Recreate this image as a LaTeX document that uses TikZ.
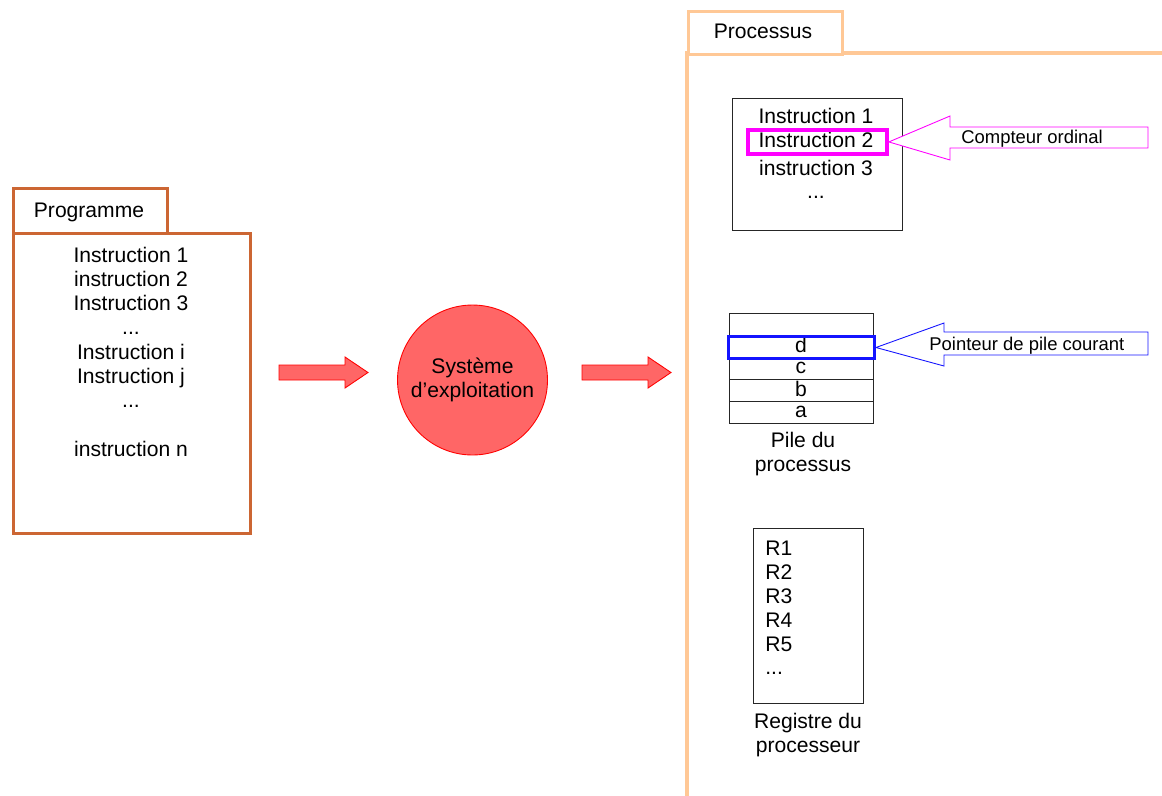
\documentclass[tikz,border=0pt]{standalone}
\usepackage{fontspec}
\setmainfont{Liberation Sans}
\definecolor{prog}{RGB}{204,102,51}
\definecolor{proc}{RGB}{255,200,150}
\definecolor{redfill}{RGB}{255,102,102}
\definecolor{mag}{RGB}{255,0,255}
\definecolor{pblue}{RGB}{20,20,255}
\newcommand\tdots{...}
\begin{document}
\begin{tikzpicture}[x=0.02cm,y=-0.02cm,
  txt/.style={font=\fontsize{12}{14}\selectfont, inner sep=0pt, anchor=base},
  txtw/.style={font=\fontsize{12}{14}\selectfont, inner sep=0pt, anchor=base west},
  small/.style={font=\fontsize{10.5}{12}\selectfont, inner sep=0pt, anchor=base west},
  box/.style={draw=black!85, line width=0.6pt, inner sep=0pt, anchor=north west},
  progbox/.style={draw=prog, line width=1.7pt, fill=white, inner sep=0pt, anchor=north west},
  procline/.style={draw=proc, line width=1.9pt},
  blockarrow/.style={fill=redfill, draw=red, line width=0.5pt},
  callout/.style={fill=white, line width=0.5pt},
]
\useasboundingbox (0,0) rectangle (1162,795);

% ---------- Programme ----------
\node[progbox, minimum width=3.08cm, minimum height=0.9cm] (ptab) at (12,187) {};
\node[progbox, minimum width=4.74cm, minimum height=6cm] (pbody) at (12,232) {};
\node[txt] (ptabt) at (89,217) {Programme};
\foreach \t/\y [count=\i] in {Instruction 1/262, instruction 2/286.3, Instruction 3/310.6, \tdots/334.9, Instruction i/359.2, Instruction j/383.5, \tdots/407.8, instruction n/456.4}
  \node[txt] (pl\i) at (131,\y) {\t};

% ---------- arrows and OS ----------
\node[circle, fill=redfill, draw=red, line width=0.5pt, minimum size=3cm, inner sep=0pt] (os) at (472.5,380) {};
\node[txt] (os1) at (472.5,373) {Système};
\node[txt] (os2) at (472.5,397) {d'exploitation};
\draw[blockarrow] (279,365) -- (345,365) -- (345,357) -- (368,372.5) -- (345,388) -- (345,380) -- (279,380) -- cycle;
\draw[blockarrow] (582,365) -- (648,365) -- (648,357) -- (671,372.5) -- (648,388) -- (648,380) -- (582,380) -- cycle;

% ---------- Processus frame ----------
\draw[procline] (687,797) -- (687,53) -- (1164,53);
\node[draw=proc, line width=1.9pt, fill=white, inner sep=0pt, anchor=north west, minimum width=3.08cm, minimum height=0.86cm] (prtab) at (687,10) {};
\node[txt] (prtabt) at (763,38) {Processus};

% ---------- instructions ----------
\node[box, minimum width=3.4cm, minimum height=2.64cm] (ibox) at (732,98) {};
\node[txt] (i1) at (816,123) {Instruction 1};
\node[txt] (i2) at (816,147) {Instruction 2};
\node[txt] (i3) at (816,175) {instruction 3};
\node[txt] (i4) at (816,198) {\tdots};
\node[draw=mag, line width=2.2pt, inner sep=0pt, anchor=north west, minimum width=2.78cm, minimum height=0.48cm] (hl) at (746,128) {};
\draw[callout, draw=mag] (hl.east) -- (950,116) -- (950,127) -- (1148,127) -- (1148,148) -- (950,148) -- (950,160) -- cycle;
\node[small] (co) at (961,143) {Compteur ordinal};

% ---------- stack ----------
\foreach \y [count=\i] in {313,335,357,379,401}
  \node[box, minimum width=2.88cm, minimum height=0.44cm] (s\i) at (729,\y) {};
\node[txt] (sd) at (801,352) {d};
\node[txt] (sc) at (801,373) {c};
\node[txt] (sb) at (801,396) {b};
\node[txt] (sa) at (801,417) {a};
\node[draw=pblue, line width=1.7pt, inner sep=0pt, anchor=north west, minimum width=2.92cm, minimum height=0.44cm] (dbox) at (727,335) {};
\draw[callout, draw=pblue] (dbox.east) -- (944,323) -- (944,332) -- (1148,332) -- (1148,355) -- (944,355) -- (944,366) -- cycle;
\node[small] (pp) at (929,350) {Pointeur de pile courant};
\node[txt] (pile1) at (803,447) {Pile du};
\node[txt] (pile2) at (803,471) {processus};

% ---------- registers ----------
\node[box, minimum width=2.2cm, minimum height=3.5cm] (rbox) at (753,528) {};
\foreach \t/\y [count=\i] in {R1/555, R2/579, R3/603, R4/627, R5/651, \tdots/674}
  \node[txtw] (r\i) at (765,\y) {\t};
\node[txt] (reg1) at (808,728) {Registre du};
\node[txt] (reg2) at (808,752) {processeur};
\end{tikzpicture}
\end{document}
